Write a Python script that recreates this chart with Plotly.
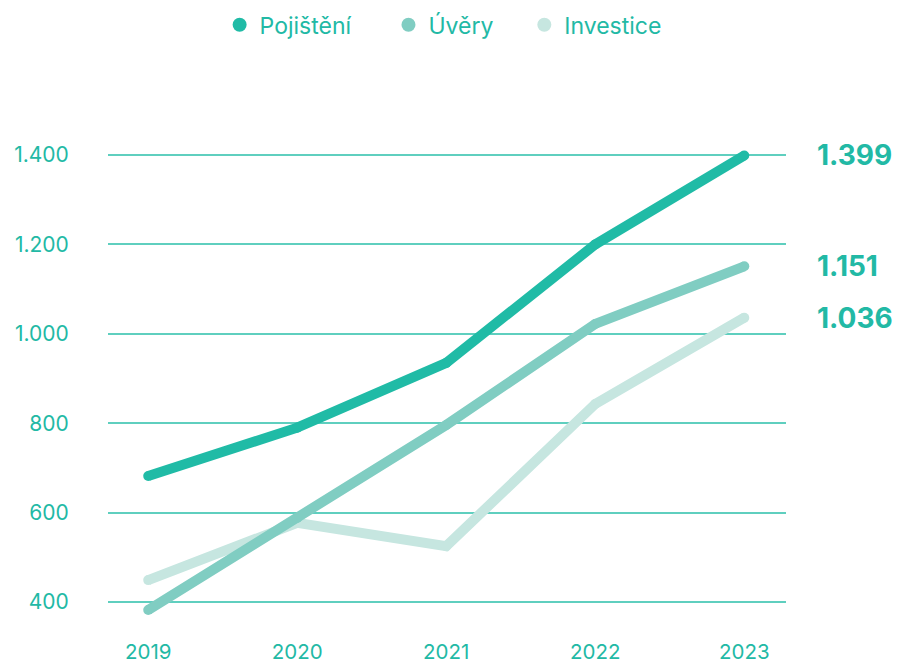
import plotly.graph_objects as go

years = ["2019", "2020", "2021", "2022", "2023"]
pojisteni = [682, 790, 935, 1200, 1399]
uvery = [382, 588, 796, 1022, 1151]
investice = [449, 577, 525, 843, 1036]

series_names = ["Pojištění", "Úvěry", "Investice"]
legend_pad = {"Pojištění": 5, "Úvěry": 4, "Investice": 0}
colors = {"Pojištění": "#20bba6", "Úvěry": "#80cdc2", "Investice": "#c6e6e0"}
values = {"Pojištění": pojisteni, "Úvěry": uvery, "Investice": investice}
end_labels = ["1.399", "1.151", "1.036"]

text_color = "#22b9a5"
grid_color = "#5fcfbf"
font_family = "Inter, Roboto, sans-serif"

fig = go.Figure()

# draw lines (Investice bottom, Pojištění top)
for name in ["Investice", "Úvěry", "Pojištění"]:
    fig.add_trace(go.Scatter(
        x=years, y=values[name], mode="lines+markers",
        line=dict(color=colors[name], width=10),
        marker=dict(color=colors[name], size=10, line=dict(width=0)),
        showlegend=False, hoverinfo="skip",
    ))

# legend entries
for name in series_names:
    fig.add_trace(go.Scatter(
        x=[None], y=[None], mode="markers",
        name=name + "\u00a0" * legend_pad[name],
        marker=dict(color=colors[name], size=14),
    ))

for name, lab in zip(series_names, end_labels):
    fig.add_annotation(
        xref="paper", x=1, xshift=29, xanchor="left",
        yref="y", y=values[name][-1], yanchor="middle",
        text=f"<b>{lab}</b>", showarrow=False,
        font=dict(size=28, color=text_color, family=font_family),
    )

fig.update_layout(
    width=897, height=664,
    margin=dict(l=108, r=111, t=100, b=34, autoexpand=False),
    paper_bgcolor="white", plot_bgcolor="white",
    font=dict(family=font_family, color=text_color, size=21),
    legend=dict(
        orientation="h", xref="container", yref="container",
        x=0.494, xanchor="center", y=0.995, yanchor="top",
        font=dict(size=23, color=text_color),
        itemsizing="trace",
    ),
    xaxis=dict(
        range=[-0.27, 4.28], showgrid=False, zeroline=False, showline=False,
        automargin=False,
        ticks="outside", ticklen=3, tickcolor="rgba(0,0,0,0)",
        tickfont=dict(size=20.5, color=text_color),
    ),
    yaxis=dict(
        range=[337.4, 1523], tickvals=[400, 600, 800, 1000, 1200, 1400],
        ticktext=["400", "600", "800", "1.000", "1.200", "1.400"],
        showgrid=True, gridcolor=grid_color, gridwidth=2, zeroline=False,
        automargin=False,
        showline=False, ticks="outside", ticklen=34, tickcolor="rgba(0,0,0,0)",
        tickfont=dict(size=21, color=text_color),
    ),
)

fig.write_html(
    "out.html",
    config={"displayModeBar": False},
    post_script="document.body.style.margin='0';document.body.style.overflow='hidden';",
)
